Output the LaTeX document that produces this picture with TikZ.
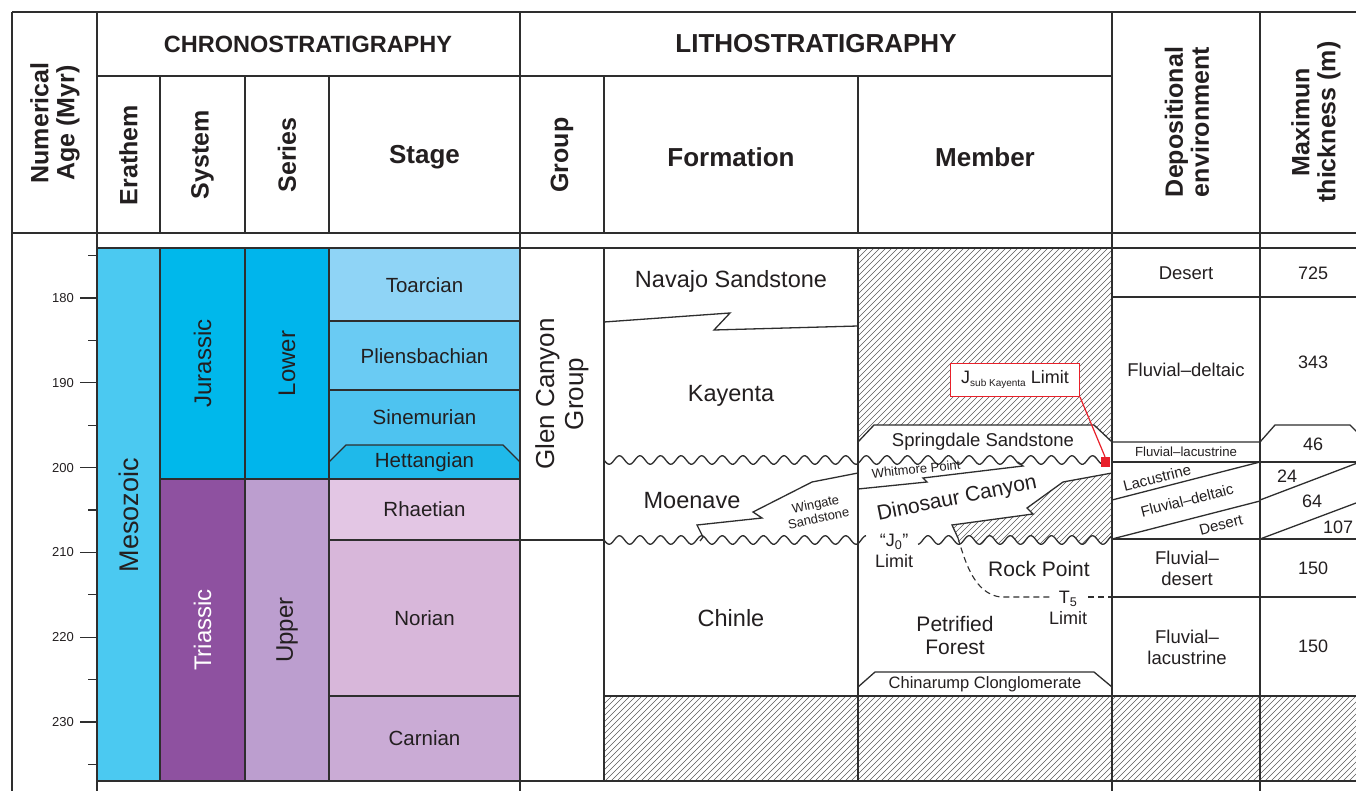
\documentclass[tikz,border=0pt]{standalone}
\usepackage{fontspec}
\setmainfont{Liberation Sans}
\definecolor{meso}{HTML}{4BC9F1}
\definecolor{jur}{HTML}{00B8EB}
\definecolor{lowerc}{HTML}{00B5EC}
\definecolor{toar}{HTML}{8FD4F6}
\definecolor{plie}{HTML}{6ACBF3}
\definecolor{sine}{HTML}{4EC3F0}
\definecolor{hett}{HTML}{1FB9EA}
\definecolor{tria}{HTML}{8E51A0}
\definecolor{upperc}{HTML}{BC9ECF}
\definecolor{rhae}{HTML}{E3C6E4}
\definecolor{nori}{HTML}{D8B7DA}
\definecolor{carn}{HTML}{CAABD5}
\definecolor{ln}{HTML}{2E2E2E}
\definecolor{txt}{HTML}{231F20}
\definecolor{redc}{HTML}{E8202A}
\definecolor{hatchc}{HTML}{5A5A5A}
\newcommand{\wave}[3]{\draw[wavel] plot[domain=#1:#2,samples=150] (\x,{#3+4.3*sin(17.5*(\x-604))});}
\begin{document}
\begin{tikzpicture}[x=1pt,y=-1pt,
  grid/.style={draw=ln,line width=1.3pt},
  wavel/.style={draw=ln,line width=1.3pt},
  hatchl/.style={draw=hatchc,line width=0.65pt},
  t/.style={text=txt,inner sep=0pt,align=center},
  hdr/.style={t,font=\fontsize{26}{26}\selectfont\bfseries},
  fage/.style={t,font=\fontsize{13}{15}\selectfont},
  fera/.style={t,font=\fontsize{27}{30}\selectfont},
  fsys/.style={t,font=\fontsize{24}{27}\selectfont},
  fstg/.style={t,font=\fontsize{20.5}{23}\selectfont},
  fform/.style={t,font=\fontsize{23.5}{26}\selectfont},
  fgrp/.style={t,font=\fontsize{26}{29}\selectfont},
  fmem/.style={t,font=\fontsize{21}{23}\selectfont},
  fsprd/.style={t,font=\fontsize{18.5}{21}\selectfont},
  fchin/.style={t,font=\fontsize{16.5}{19}\selectfont},
  fsmall/.style={t,font=\fontsize{13}{14.5}\selectfont},
  flim/.style={t,font=\fontsize{18}{21}\selectfont},
  fdep/.style={t,font=\fontsize{18.5}{21}\selectfont},
  fdeps/.style={t,font=\fontsize{13.2}{15}\selectfont},
  fslant/.style={t,font=\fontsize{15}{17}\selectfont},
  fnum/.style={t,font=\fontsize{18}{21}\selectfont}]
\useasboundingbox (0,0) rectangle (1356,791);
\fill[white] (0,0) rectangle (1356,791);
\begin{scope}
\clip (0,0) rectangle (1356,791);
% ---------- colour fills ----------
\fill[meso] (97,248) rectangle (160,781);
\fill[jur] (160,248) rectangle (245,479);
\fill[tria] (160,479) rectangle (245,781);
\fill[lowerc] (245,248) rectangle (329,479);
\fill[upperc] (245,479) rectangle (329,781);
\fill[toar] (329,248) rectangle (520,321);
\fill[plie] (329,321) rectangle (520,390);
\fill[sine] (329,390) rectangle (520,479);
\fill[hett] (329,479) -- (329,462) -- (346,445) -- (503,445) -- (520,462) -- (520,479) -- cycle;
\fill[rhae] (329,479) rectangle (520,540);
\fill[nori] (329,540) rectangle (520,696);
\fill[carn] (329,696) rectangle (520,781);
% ---------- hatching ----------
\begin{scope}
\clip (858,248) -- (1112,248) -- (1112,442) -- (1094,425) -- (874,425) -- (858,442) -- cycle
      (604,696) rectangle (1356,781)
      (1112,473) -- (1063,482) -- (1027,508) -- (1033,514) -- (952,525) -- (958,538)
      -- plot[domain=958:1112,samples=80] (\x,{540+4.3*sin(17.5*(\x-604))}) -- cycle;
\foreach \i in {-200,-194,...,1600} \draw[hatchl] (\i,800) -- ++(800,-800);
\end{scope}
% ---------- table frame ----------
\draw[grid] (12,12) -- (1356,12);
\draw[grid] (97,76) -- (1112,76);
\draw[grid] (12,233) -- (1356,233);
\draw[grid] (97,248) -- (1356,248);
\draw[grid] (97,781) -- (1356,781);
\foreach \xx in {12,97,520,1112,1260} \draw[grid] (\xx,12) -- (\xx,791);
\foreach \xx in {160,245,329,604,858} {\draw[grid] (\xx,76) -- (\xx,233); \draw[grid] (\xx,248) -- (\xx,781);}
% chrono internal lines
\draw[grid] (160,479) -- (520,479);
\foreach \yy in {321,390,540,696} \draw[grid] (329,\yy) -- (520,\yy);
\draw[grid] (329,462) -- (346,445) -- (503,445) -- (520,462);
% age scale
\foreach \a [evaluate=\a as \yy using {298+8.48*(\a-180)}] in {180,190,...,230} {
  \draw[grid] (80,\yy) -- (97,\yy);
  \node[fage,anchor=east] (age\a) at (74,\yy) {\a};
}
\foreach \a [evaluate=\a as \yy using {298+8.48*(\a-180)}] in {175,185,...,235} \draw[grid] (88,\yy) -- (97,\yy);
% litho lines
\draw[grid] (520,540) -- (604,540);
\draw[grid] (604,696) -- (1356,696);
\draw[grid] (604,322) -- (730,313) -- (714,330) -- (858,326);
\draw[grid] (858,473) -- (812,482) -- (753,512) -- (762,518) -- (697,525) -- (703,537) -- (700,541);
\draw[grid] (858,442) -- (874,425) -- (1094,425) -- (1112,442);
\draw[grid] (858,489) -- (927,482) -- (923,478) -- (1023,466) -- (1018,462);
\draw[grid] (1112,473) -- (1063,482) -- (1027,508) -- (1033,514) -- (952,525) -- (958,538);
\draw[grid] (858,687) -- (875,672) -- (1094,672) -- (1112,687);
\draw[ln,line width=1.1pt,dash pattern=on 6pt off 4pt] (958,538) .. controls (966,565) and (975,593) .. (1000,597) -- (1050,597);
\draw[ln,line width=1.1pt,dash pattern=on 6pt off 4pt] (1088,597) -- (1112,597);
\wave{604}{858}{460}
\wave{858}{1101}{460}
\wave{604}{858}{540}
\wave{858}{866}{540}
\wave{918}{1112}{540}
% environment / thickness lines
\draw[grid] (1112,297) -- (1356,297);
\draw[grid] (1112,442) -- (1260,442) -- (1275,425) -- (1350,425) -- (1367,442);
\draw[grid] (1112,462) -- (1356,462);
\draw[grid] (1112,539) -- (1356,539);
\draw[grid] (1112,597) -- (1356,597);
\draw[grid] (1112,500) -- (1260,462);
\draw[grid] (1112,539) -- (1260,501);
\draw[grid] (1260,500) -- (1360,462);
\draw[grid] (1260,539) -- (1364,500);
\end{scope}
% ---------- headers ----------
\node[hdr,rotate=90,font=\fontsize{25}{26}\selectfont\bfseries] (hnum) at (55,123) {Numerical\\Age (Myr)};
\node[hdr,font=\fontsize{23.5}{26}\selectfont\bfseries] (hchrono) at (308,44) {CHRONOSTRATIGRAPHY};
\node[hdr] (hlitho) at (816,44) {LITHOSTRATIGRAPHY};
\node[hdr,rotate=90,font=\fontsize{25}{26}\selectfont\bfseries] (hera) at (128.5,155) {Erathem};
\node[hdr,rotate=90,font=\fontsize{25}{26}\selectfont\bfseries] (hsys) at (202.5,155) {System};
\node[hdr,rotate=90,font=\fontsize{25}{26}\selectfont\bfseries] (hser) at (287,155) {Series};
\node[hdr] (hstage) at (424.5,157) {Stage};
\node[hdr,rotate=90,font=\fontsize{25}{26}\selectfont\bfseries] (hgroup) at (562,155) {Group};
\node[hdr] (hform) at (731,157) {Formation};
\node[hdr] (hmem) at (985,157) {Member};
\node[hdr,rotate=90,font=\fontsize{25}{26}\selectfont\bfseries] (hdep) at (1187,122) {Depositional\\environment};
\node[hdr,rotate=90,font=\fontsize{25}{26}\selectfont\bfseries] (hthk) at (1316,122) {Maximun\\thickness (m)};
% ---------- chrono labels ----------
\node[fera,rotate=90] (meso) at (128.5,515) {Mesozoic};
\node[fsys,rotate=90] (jurl) at (202.5,363.5) {Jurassic};
\node[fsys,rotate=90] (lowl) at (287,363.5) {Lower};
\node[fsys,rotate=90,text=white] (tril) at (202.5,630) {Triassic};
\node[fsys,rotate=90] (uppl) at (287,630) {Upper};
\node[fstg] (toarl) at (424.5,285) {Toarcian};
\node[fstg] (pliel) at (424.5,356) {Pliensbachian};
\node[fstg] (sinel) at (424.5,417) {Sinemurian};
\node[fstg] (hettl) at (424.5,462.5) {Hettangian};
\node[fstg] (rhael) at (424.5,509.5) {Rhaetian};
\node[fstg] (noril) at (424.5,618) {Norian};
\node[fstg] (carnl) at (424.5,738.5) {Carnian};
% ---------- litho labels ----------
\node[fgrp,rotate=90] (glen) at (562,394) {Glen Canyon\\Group};
\node[fform] (navajo) at (731,281) {Navajo Sandstone};
\node[fform] (kayenta) at (731,396) {Kayenta};
\node[fform] (moenave) at (692,501) {Moenave};
\node[fsmall,rotate=12] (wingate) at (817,511) {Wingate\\Sandstone};
\node[fform] (chinle) at (731,618) {Chinle};
\node[fsprd] (springdale) at (983,442) {Springdale Sandstone};
\node[fsmall,rotate=6] (whitmore) at (916,469) {Whitmore Point};
\node[fmem,rotate=11.5] (dinosaur) at (957,499) {Dinosaur Canyon};
\node[flim] (jzero) at (894,551) {“J\textsubscript{0}”\\Limit};
\node[fmem] (rock) at (1039,569) {Rock Point};
\node[flim] (tfive) at (1068,608) {T\textsubscript{5}\\Limit};
\node[fmem] (petrified) at (955,635) {Petrified\\Forest};
\node[fchin] (chinarump) at (985,684) {Chinarump Clonglomerate};
% ---------- environment / thickness ----------
\node[fdep] (envdesert) at (1186,273) {Desert};
\node[fdep] (envfd) at (1186,370) {Fluvial–deltaic};
\node[fdeps] (envfl) at (1186,452) {Fluvial–lacustrine};
\node[fslant,rotate=14.4] (envlac) at (1157,478) {Lacustrine};
\node[fslant,rotate=14.4] (envfd2) at (1187,500) {Fluvial–deltaic};
\node[fslant,rotate=14.4] (envdes2) at (1221,525) {Desert};
\node[fdep] (envfdes) at (1187,568) {Fluvial–\\desert};
\node[fdep] (envflac) at (1187,647) {Fluvial–\\lacustrine};
\node[fnum] (th725) at (1313,273) {725};
\node[fnum] (th343) at (1313,362) {343};
\node[fnum] (th46) at (1313,444) {46};
\node[fnum] (th24) at (1287,476) {24};
\node[fnum] (th64) at (1312,501) {64};
\node[fnum] (th107) at (1338,527) {107};
\node[fnum] (th150a) at (1313,568) {150};
\node[fnum] (th150b) at (1313,646) {150};
% ---------- callout ----------
\node[fill=redc,minimum width=9pt,minimum height=10pt,inner sep=0pt] (redsq) at (1105,462) {};
\node[draw=redc,fill=white,line width=1pt,minimum width=129pt,minimum height=33pt,inner sep=0pt,text=txt,font=\fontsize{18}{20}\selectfont] (callout) at (1015,380) {J\raisebox{-3pt}{\fontsize{10}{10}\selectfont sub Kayenta} Limit};
\draw[redc,line width=1.2pt] (callout.south east) -- (redsq.north);
\end{tikzpicture}
\end{document}
